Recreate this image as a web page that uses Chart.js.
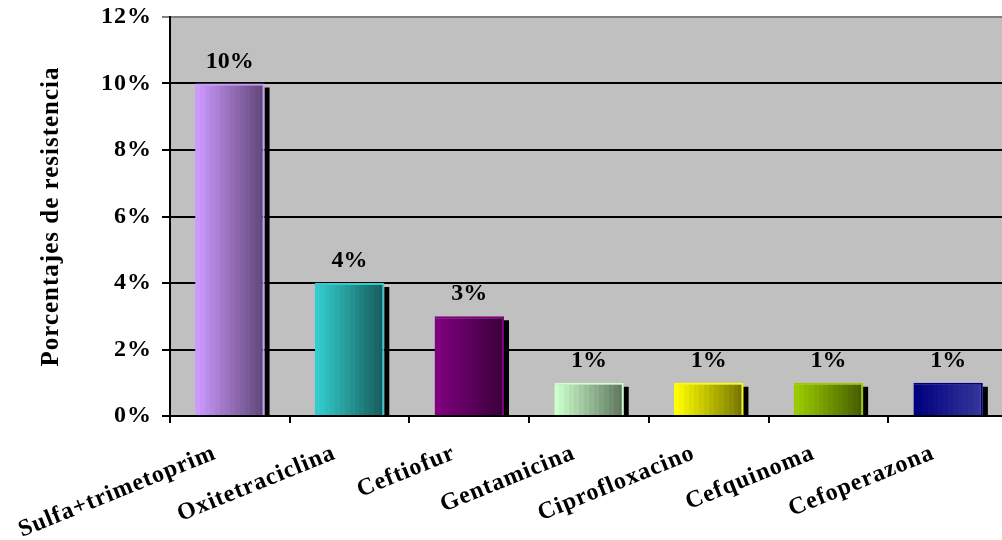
<!DOCTYPE html>
<html>
<head>
<meta charset="utf-8">
<script src="https://cdn.jsdelivr.net/npm/chart.js@4"></script>
<style>
  html, body { margin: 0; padding: 0; background: #fff; overflow: hidden; }
  #wrap { width: 1002px; height: 540px; overflow: hidden; }
</style>
</head>
<body>
<div id="wrap"><canvas id="barChart" width="1010" height="540"></canvas></div>
<script>
// chart data
const ANTIBIOTICS = ['Sulfa+trimetoprim', 'Oxitetraciclina', 'Ceftiofur', 'Gentamicina', 'Ciprofloxacino', 'Cefquinoma', 'Cefoperazona'];
const RESISTANCE = [10, 4, 3, 1, 1, 1, 1];
const Y_TICKS = [0, 2, 4, 6, 8, 10, 12];

// bar colours, light side -> dark side
const LIGHT = ['#CC99FF', '#33CCCC', '#800080', '#CCFFCC', '#FFFF00', '#99CC00', '#000080'];
const DARK = ['#604878', '#185E5E', '#3C003C', '#607860', '#787800', '#485F00', '#35359C'];

const FONT = "'Liberation Serif', 'Times New Roman', serif";
const BAR_PCT = 0.58;

function hexRgb(h) {
    return [parseInt(h.substr(1, 2), 16), parseInt(h.substr(3, 2), 16), parseInt(h.substr(5, 2), 16)];
}

function stepped(ctx, x0, x1, c0, c1, steps) {
    const a = hexRgb(c0), b = hexRgb(c1);
    const g = ctx.createLinearGradient(x0, 0, x1, 0);
    for (let i = 0; i < steps; i++) {
        const t = i / (steps - 1);
        const col = 'rgb(' + a.map((v, k) => Math.round(v + (b[k] - v) * t)).join(',') + ')';
        g.addColorStop(i / steps, col);
        g.addColorStop((i + 1) / steps, col);
    }
    return g;
}

const spacing = {
    id: 'spacing',
    beforeUpdate(chart) { chart.ctx.letterSpacing = '1px'; },
    beforeDraw(chart) {
        const ctx = chart.ctx, a = chart.chartArea;
        ctx.letterSpacing = '1px';
        ctx.save();
        ctx.fillStyle = '#C0C0C0';
        ctx.fillRect(a.left, a.top, a.right - a.left, a.bottom - a.top);
        ctx.restore();
    }
};

const shadowAndLabels = {
    id: 'shadowAndLabels',
    beforeDatasetsDraw(chart) {
        const ctx = chart.ctx;
        const base = chart.scales.y.getPixelForValue(0);
        ctx.save();
        ctx.fillStyle = '#000';
        chart.getDatasetMeta(0).data.forEach(bar => {
            ctx.fillRect(bar.x + bar.width / 2, bar.y + 4, 5, base - bar.y - 4);
        });
        ctx.restore();
    },
    afterDatasetsDraw(chart) {
        const ctx = chart.ctx;
        ctx.save();
        ctx.letterSpacing = '0px';
        ctx.font = 'bold 24px ' + FONT;
        ctx.fillStyle = '#000';
        ctx.textAlign = 'center';
        ctx.textBaseline = 'alphabetic';
        chart.getDatasetMeta(0).data.forEach((bar, i) => {
            ctx.fillText(RESISTANCE[i] + '%', bar.x, bar.y - 16);
        });
        ctx.restore();
    }
};

const bar = document.getElementById('barChart');

new Chart(bar, {
    type: 'bar',
    data: {
        labels: ANTIBIOTICS,
        datasets: [{
            data: RESISTANCE,
            backgroundColor: c => {
                const chart = c.chart, xs = chart.scales.x;
                if (c.dataIndex === undefined) return '#888';
                if (!xs || !chart.chartArea) return LIGHT[c.dataIndex];
                const cx = xs.getPixelForValue(c.dataIndex);
                const w = (xs.width / ANTIBIOTICS.length) * BAR_PCT;
                return stepped(chart.ctx, cx - w / 2, cx + w / 2, LIGHT[c.dataIndex], DARK[c.dataIndex], 14);
            },
            borderColor: c => c.dataIndex === 6 ? '#000080' : LIGHT[c.dataIndex],
            borderWidth: { top: 2, right: 2, left: 0, bottom: 0 },
            borderSkipped: 'bottom',
            barPercentage: BAR_PCT,
            categoryPercentage: 1
        }]
    },
    options: {
        responsive: false,
        animation: false,
        layout: { padding: { left: 0, right: 2, top: 17, bottom: 0 } },
        plugins: {
            legend: { display: false },
            tooltip: { enabled: false }
        },
        scales: {
            x: {
                grid: { drawOnChartArea: false, drawTicks: true, tickLength: 7, color: '#000', lineWidth: 2 },
                border: { display: true, color: '#000', width: 2 },
                ticks: {
                    color: '#000',
                    font: { family: FONT, size: 24, weight: 'bold' },
                    minRotation: 22,
                    maxRotation: 22,
                    autoSkip: false,
                    padding: 16,
                    labelOffset: -15
                },
                afterFit(scale) {
                    scale.height = 124;
                    scale.paddingLeft = 0;
                    scale.paddingRight = 0;
                }
            },
            y: {
                min: 0,
                max: 12,
                afterBuildTicks(scale) { scale.ticks = Y_TICKS.map(v => ({ value: v })); },
                grid: {
                    color: c => (c.tick && c.tick.value === 12) ? '#7F7F7F' : '#000',
                    lineWidth: 2,
                    tickLength: 8
                },
                border: { display: true, color: '#000', width: 2 },
                ticks: {
                    color: '#000',
                    font: { family: FONT, size: 24, weight: 'bold' },
                    padding: 10,
                    callback: v => v + '%'
                },
                title: {
                    display: true,
                    text: 'Porcentajes de resistencia',
                    color: '#000',
                    font: { family: FONT, size: 25, weight: 'bold' },
                    padding: { top: 37, bottom: 0 }
                },
                afterFit(scale) {
                    scale.width = 170;
                    scale.paddingTop = 0;
                    scale.paddingBottom = 0;
                }
            }
        }
    },
    plugins: [spacing, shadowAndLabels]
});
</script>
</body>
</html>
